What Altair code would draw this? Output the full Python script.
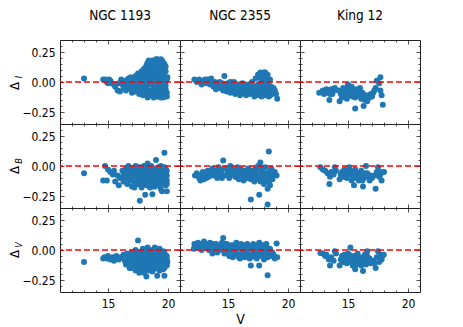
import altair as alt
import pandas as pd

clusters = ["NGC 1193", "NGC 2355", "King 12"]
bands = ["I", "B", "V"]

# (V, Delta) pairs
ngc1193_I = [(13.0,0.03),(14.6,0.02),(14.8,0.02),(14.9,0.0),(15.1,0.02),(15.2,0.01),(15.3,-0.01),(15.0,-0.01),
    (15.5,-0.02),(15.6,-0.04),(15.8,-0.07),(16.0,-0.08),(15.9,-0.01),(16.1,0.02),(16.2,-0.02),(16.3,-0.05),(16.4,0.01),
    (16.5,-0.07),(16.6,-0.03),(16.7,0.03),(16.8,-0.01),(16.9,-0.06),(16.9,0.04),(17.0,-0.09),(17.1,0.02),(17.2,-0.03),
    (17.3,0.05),(17.3,-0.08),(17.4,0.0),(17.5,-0.05),(17.5,0.07),(17.6,-0.1),(17.7,0.03),(17.7,-0.02),(17.8,0.09),
    (17.8,-0.07),(17.9,0.05),(17.9,-0.11),(18.0,0.0),(18.0,0.11),(18.1,-0.04),(18.1,0.07),(18.2,-0.09),(18.2,0.14),
    (18.3,0.03),(18.3,-0.13),(18.4,0.18),(18.4,-0.02),(18.5,0.09),(18.5,-0.07),(18.5,0.14),(18.6,0.04),(18.6,-0.11),
    (18.7,0.18),(18.7,0.0),(18.8,0.12),(18.8,-0.05),(18.8,-0.13),(18.9,0.07),(18.9,0.02),(19.0,0.19),(19.0,-0.09),
    (19.0,0.15),(19.1,0.1),(19.1,-0.02),(19.2,0.05),(19.2,-0.12),(19.2,0.18),(19.3,0.13),(19.3,-0.06),(19.3,0.0),
    (19.4,0.19),(19.4,0.08),(19.4,-0.1),(19.5,0.14),(19.5,0.03),(19.5,-0.04),(19.6,0.1),(19.6,-0.08),(19.6,-0.13),
    (19.7,0.15),(19.7,0.05),(19.7,-0.01),(19.8,0.09),(19.8,-0.06),(19.8,-0.11),(19.9,0.02),(19.95,0.04),(19.9,-0.09)]
ngc1193_I_more = [(16.6,0.0),(16.8,-0.04),(17.0,0.0),(17.0,-0.05),(17.2,0.02),(17.2,-0.07),(17.4,-0.03),(17.4,0.04),
    (17.6,0.0),(17.6,-0.06),(17.6,0.05),(17.8,-0.03),(17.8,0.02),(18.0,-0.08),(18.0,0.05),(18.0,-0.02),(18.2,0.02),
    (18.2,-0.05),(18.2,0.09),(18.4,-0.09),(18.4,0.06),(18.4,0.11),(18.6,0.08),(18.6,-0.01),(18.6,0.13),(18.8,0.16),
    (18.8,0.07),(18.8,-0.09),(19.0,0.11),(19.0,0.04),(19.0,-0.05),(19.0,-0.12),(19.2,0.14),(19.2,0.09),(19.2,0.01),
    (19.2,-0.07),(19.4,0.12),(19.4,0.04),(19.4,-0.02),(19.4,-0.13),(19.6,0.16),(19.6,0.06),(19.6,0.0),(19.8,0.13),
    (19.8,0.0),(19.8,-0.03),(19.9,-0.12),(17.9,0.09),(17.7,0.07),(18.3,0.16),(18.9,0.17),(19.1,0.19),(19.3,0.16),(19.5,0.18)]
ngc2355_I = [(12.2,0.02),(12.4,0.0),(12.6,0.02),(12.8,-0.02),(12.9,0.01),(13.1,0.02),(13.2,-0.01),(13.4,0.01),
    (13.6,0.03),(13.7,-0.02),(13.8,-0.04),(13.9,0.0),(14.0,-0.06),(14.2,-0.02),(14.3,-0.05),(14.5,-0.01),(14.7,0.05),
    (14.6,-0.07),(14.8,-0.03),(14.9,-0.08),(15.0,-0.01),(15.1,-0.05),(15.2,-0.09),(15.3,-0.03),(15.4,-0.07),(15.5,0.0),
    (15.6,-0.1),(15.7,-0.04),(15.8,-0.08),(15.9,-0.02),(16.0,-0.11),(16.1,-0.06),(16.2,-0.01),(16.3,-0.09),(16.4,-0.04),
    (16.5,-0.11),(16.6,-0.07),(16.7,-0.02),(16.8,-0.1),(16.9,-0.05),(17.0,0.0),(17.1,-0.08),(17.2,-0.12),(17.3,0.03),
    (17.3,-0.04),(17.4,-0.09),(17.5,0.06),(17.5,-0.02),(17.6,-0.11),(17.7,0.08),(17.7,-0.06),(17.8,0.02),(17.8,-0.12),
    (17.9,-0.03),(17.9,0.07),(18.0,-0.08),(18.0,0.04),(18.1,-0.11),(18.1,0.08),(18.2,0.0),(18.2,-0.05),(18.3,-0.1),
    (18.3,0.06),(18.4,-0.02),(18.4,-0.12),(18.5,-0.07),(18.6,-0.04),(18.7,-0.1),(18.9,-0.07),(19.0,-0.1),(19.1,-0.14)]
ngc2355_I_more = [(12.5,0.01),(13.0,0.0),(13.3,0.02),(13.5,-0.02),(13.9,-0.03),(14.1,-0.01),(14.4,-0.04),(14.6,-0.02),
    (14.9,-0.05),(15.1,-0.03),(15.3,-0.06),(15.5,-0.04),(15.7,-0.07),(15.9,-0.05),(16.1,-0.09),(16.3,-0.03),(16.5,-0.06),
    (16.7,-0.08),(16.9,-0.02),(17.1,-0.05),(17.3,-0.1),(17.5,-0.07),(17.7,-0.01),(17.9,-0.08),(18.1,-0.04),(18.3,-0.07),
    (18.5,-0.11),(18.5,0.02),(18.6,-0.08),(18.8,-0.05),(17.6,0.04),(18.0,0.08),(18.2,0.04),(16.0,-0.02),(15.2,0.0),(14.3,0.0)]
king12_I = [(12.6,-0.09),(12.9,-0.07),(13.0,-0.1),(13.2,-0.06),(13.3,-0.09),(13.5,-0.1),(13.45,-0.15),(13.6,-0.06),
    (13.8,-0.07),(13.9,-0.05),(14.3,-0.16),(14.4,-0.1),(14.5,-0.13),(14.6,-0.08),(14.7,-0.11),(14.8,-0.06),(14.9,-0.09),
    (15.0,-0.02),(15.0,-0.12),(15.1,-0.07),(15.2,-0.05),(15.3,-0.1),(15.3,-0.04),(15.4,-0.12),(15.5,-0.08),(15.6,-0.22),
    (15.6,-0.13),(15.7,-0.06),(15.8,-0.1),(15.9,-0.07),(16.0,-0.11),(16.0,-0.05),(16.1,-0.14),(16.2,-0.09),(16.3,-0.2),
    (16.4,-0.15),(16.6,-0.16),(16.8,-0.13),(16.9,-0.1),(17.0,-0.12),(17.1,-0.09),(17.2,-0.07),(17.3,-0.05),(17.4,0.01),
    (17.6,-0.01),(17.7,0.04),(17.7,-0.07),(17.8,-0.11),(17.9,-0.19)]
king12_I_more = [(14.6,-0.05),(14.9,-0.14),(15.2,-0.09),(15.4,-0.06),(15.7,-0.09),(16.0,-0.08),(16.2,-0.12),
    (16.5,-0.11),(14.2,-0.07),(13.7,-0.1)]
ngc1193_B = [(13.0,-0.06),(14.75,0.0),(14.6,-0.12),(14.9,-0.12),(15.0,-0.03),(15.2,-0.05),(15.4,-0.07),(15.5,-0.04),
    (15.6,-0.13),(15.8,-0.08),(15.9,-0.16),(16.0,-0.1),(16.2,-0.04),(16.3,-0.13),(16.4,-0.08),(16.5,-0.02),(16.6,-0.15),
    (16.7,0.0),(16.7,-0.1),(16.8,-0.05),(16.9,-0.12),(17.0,-0.02),(17.0,-0.17),(17.1,-0.08),(17.2,-0.13),(17.3,-0.04),
    (17.3,0.0),(17.4,-0.1),(17.5,-0.15),(17.5,-0.06),(17.6,-0.01),(17.65,-0.29),(17.7,-0.12),(17.8,-0.08),(17.8,-0.18),
    (17.9,-0.03),(18.0,-0.14),(18.0,0.0),(18.1,-0.24),(18.1,-0.06),(18.2,-0.1),(18.2,-0.16),(18.3,0.02),(18.3,-0.02),
    (18.4,-0.12),(18.4,-0.07),(18.5,-0.18),(18.5,-0.04),(18.6,0.0),(18.6,-0.1),(18.7,-0.235),(18.7,-0.14),(18.8,-0.06),
    (18.8,-0.02),(18.9,-0.17),(18.9,-0.1),(19.0,0.05),(19.0,-0.04),(19.1,-0.13),(19.1,-0.08),(19.2,-0.01),(19.2,-0.16),
    (19.3,-0.11),(19.3,-0.05),(19.4,0.0),(19.4,-0.19),(19.5,-0.09),(19.5,-0.21),(19.5,-0.03),(19.6,-0.14),(19.6,-0.06),
    (19.7,0.11),(19.7,-0.1),(19.7,-0.01),(19.8,-0.16),(19.8,-0.05),(19.9,-0.21),(19.9,-0.08),(19.9,-0.12)]
ngc1193_B_more = [(16.3,-0.07),(16.5,-0.1),(16.6,-0.05),(16.8,-0.09),(16.9,-0.02),(17.0,-0.12),(17.1,-0.04),(17.2,-0.1),
    (17.3,-0.15),(17.4,-0.07),(17.5,-0.02),(17.6,-0.13),(17.7,-0.05),(17.8,-0.11),(17.9,-0.15),(18.0,-0.09),(18.0,-0.04),
    (18.1,-0.13),(18.2,-0.01),(18.3,-0.08),(18.3,-0.15),(18.4,-0.03),(18.5,-0.11),(18.6,-0.16),(18.6,-0.06),(18.7,-0.09),
    (18.7,-0.02),(18.8,-0.13),(18.9,-0.07),(18.9,-0.04),(19.0,-0.11),(19.0,-0.15),(19.1,-0.02),(19.1,-0.06),(19.2,-0.09),
    (19.2,-0.13),(19.3,-0.02),(19.3,-0.15),(19.4,-0.07),(19.4,-0.13),(19.5,-0.12),(19.6,-0.02),(19.6,-0.1),(19.7,-0.07),
    (19.7,-0.13),(19.8,-0.09),(19.8,-0.02),(19.9,-0.04),(19.9,-0.15),(17.2,-0.18),(17.9,-0.01),(18.8,-0.17)]
ngc2355_B = [(12.25,-0.08),(12.4,-0.06),(12.6,-0.1),(12.7,-0.12),(12.9,-0.05),(13.0,-0.11),(13.1,-0.07),(13.3,-0.04),
    (13.4,-0.09),(13.6,-0.06),(13.7,-0.02),(13.8,-0.08),(14.0,-0.04),(14.1,-0.1),(14.2,-0.01),(14.3,-0.06),(14.5,-0.03),
    (14.6,0.045),(14.7,-0.08),(14.8,-0.02),(15.0,-0.05),(15.1,-0.1),(15.2,0.0),(15.3,-0.07),(15.4,-0.03),(15.6,-0.09),
    (15.7,-0.05),(15.8,-0.01),(15.9,-0.11),(16.0,-0.06),(16.1,-0.03),(16.2,-0.08),(16.3,-0.12),(16.4,-0.04),(16.5,-0.07),
    (16.6,-0.1),(16.7,-0.02),(16.8,-0.06),(16.9,-0.28),(16.9,-0.11),(17.0,-0.04),(17.1,-0.08),(17.2,-0.13),(17.3,-0.02),
    (17.3,-0.06),(17.4,-0.1),(17.5,0.0),(17.6,-0.24),(17.6,-0.08),(17.7,0.03),(17.7,-0.13),(17.8,-0.04),(17.9,-0.1),
    (18.0,-0.06),(18.0,-0.15),(18.1,-0.01),(18.2,-0.09),(18.2,-0.12),(18.3,-0.19),(18.3,-0.32),(18.4,0.12),(18.4,-0.05),
    (18.5,-0.16),(18.5,-0.08),(18.6,-0.02),(18.7,-0.11),(18.8,-0.07),(18.9,-0.05),(19.05,-0.08)]
ngc2355_B_more = [(12.5,-0.08),(12.8,-0.07),(13.2,-0.1),(13.5,-0.06),(13.9,-0.05),(14.2,-0.08),(14.4,-0.05),(14.9,-0.07),
    (15.3,-0.04),(15.5,-0.06),(15.7,-0.09),(16.0,-0.03),(16.2,-0.05),(16.4,-0.09),(16.6,-0.05),(16.8,-0.09),(17.0,-0.07),
    (17.2,-0.05),(17.4,-0.03),(17.6,-0.11),(17.8,-0.07),(17.9,-0.02),(18.1,-0.08),(18.3,-0.1),(18.4,-0.13),(18.6,-0.06),
    (18.7,-0.04),(15.0,-0.02),(14.5,-0.1),(16.1,-0.1)]
king12_B = [(12.7,-0.01),(12.9,-0.03),(13.1,-0.04),(13.3,-0.06),(13.45,-0.15),(13.5,-0.09),(13.6,-0.05),(13.8,-0.07),
    (13.9,-0.01),(14.0,-0.04),(14.3,-0.11),(14.4,-0.07),(14.5,-0.05),(14.6,-0.09),(14.7,-0.03),(14.8,-0.06),(14.9,-0.1),
    (15.0,-0.04),(15.1,-0.01),(15.2,-0.07),(15.3,-0.12),(15.4,-0.05),(15.5,-0.16),(15.5,-0.08),(15.6,-0.03),(15.7,-0.1),
    (15.8,-0.06),(15.9,-0.12),(16.0,-0.08),(16.1,-0.04),(16.25,-0.17),(16.3,-0.1),(16.4,-0.06),(16.5,0.0),(16.6,-0.09),
    (16.8,-0.12),(17.0,-0.1),(17.2,-0.08),(17.3,-0.19),(17.4,-0.05),(17.5,-0.01),(17.6,-0.09),(17.7,-0.07),(17.8,-0.12),
    (17.9,-0.05),(18.0,-0.05)]
king12_B_more = [(14.5,-0.08),(14.8,-0.09),(15.0,-0.07),(15.2,-0.04),(15.4,-0.09),(15.6,-0.06),(15.8,-0.09),
    (16.1,-0.07),(16.2,-0.12),(16.6,-0.06),(16.9,-0.08),(17.6,-0.05)]
ngc1193_V = [(13.0,-0.1),(14.6,-0.07),(14.7,-0.06),(14.9,-0.07),(15.0,-0.05),(15.2,-0.08),(15.4,-0.06),(15.5,-0.09),
    (15.7,-0.05),(15.9,-0.08),(16.1,-0.06),(16.3,-0.04),(16.4,-0.09),(16.5,-0.12),(16.6,-0.03),(16.7,-0.07),(16.8,-0.15),
    (16.9,-0.1),(17.0,-0.02),(17.0,-0.05),(17.1,-0.13),(17.2,-0.08),(17.3,-0.17),(17.3,0.0),(17.4,-0.04),(17.5,0.08),
    (17.5,-0.11),(17.6,-0.07),(17.6,-0.19),(17.7,-0.02),(17.8,-0.14),(17.8,-0.09),(17.9,0.01),(17.9,-0.05),(18.0,-0.19),
    (18.0,-0.12),(18.1,-0.07),(18.1,-0.03),(18.2,-0.22),(18.2,-0.15),(18.3,0.02),(18.3,-0.1),(18.4,-0.05),(18.4,-0.17),
    (18.5,-0.12),(18.5,-0.01),(18.6,-0.08),(18.6,-0.14),(18.7,0.0),(18.7,-0.18),(18.8,-0.04),(18.8,-0.11),(18.9,-0.07),
    (18.9,0.02),(19.0,-0.15),(19.0,-0.09),(19.1,-0.215),(19.1,-0.03),(19.2,-0.12),(19.2,-0.06),(19.3,0.01),(19.3,-0.17),
    (19.4,-0.1),(19.4,-0.04),(19.5,-0.13),(19.5,-0.07),(19.6,-0.01),(19.6,-0.16),(19.7,-0.215),(19.7,-0.09),(19.8,-0.05),
    (19.8,-0.12),(19.9,-0.08),(19.95,-0.1)]
ngc1193_V_more = [(16.6,-0.08),(16.8,-0.05),(16.9,-0.12),(17.0,-0.08),(17.1,-0.03),(17.2,-0.11),(17.3,-0.06),
    (17.4,-0.14),(17.5,-0.03),(17.6,-0.1),(17.7,-0.16),(17.7,-0.06),(17.8,-0.02),(17.9,-0.12),(17.9,-0.08),(18.0,-0.04),
    (18.1,-0.16),(18.1,-0.1),(18.2,-0.01),(18.2,-0.07),(18.3,-0.13),(18.3,-0.04),(18.4,-0.09),(18.4,-0.02),(18.5,-0.15),
    (18.5,-0.06),(18.6,-0.11),(18.6,-0.03),(18.7,-0.08),(18.7,-0.14),(18.8,-0.01),(18.8,-0.16),(18.9,-0.1),(18.9,-0.04),
    (19.0,-0.12),(19.0,-0.01),(19.1,-0.07),(19.1,-0.15),(19.2,-0.02),(19.2,-0.09),(19.3,-0.05),(19.3,-0.12),(19.4,-0.15),
    (19.4,-0.01),(19.5,-0.1),(19.5,-0.03),(19.6,-0.06),(19.6,-0.12),(19.7,-0.02),(19.7,-0.15),(19.8,-0.08),(19.9,-0.05),
    (19.9,-0.13),(17.0,-0.15),(16.7,-0.1)]
ngc2355_V = [(12.15,0.01),(12.2,0.05),(12.4,0.02),(12.5,0.06),(12.7,0.03),(12.8,0.0),(12.9,0.05),(13.0,0.07),
    (13.1,0.02),(13.3,0.05),(13.4,0.0),(13.5,0.06),(13.6,0.02),(13.7,-0.03),(13.8,0.05),(14.0,0.01),(14.1,-0.02),
    (14.2,0.04),(14.3,0.0),(14.5,0.06),(14.6,0.1),(14.7,-0.03),(14.8,0.02),(14.9,0.05),(15.0,-0.01),(15.1,-0.05),
    (15.2,0.03),(15.3,0.0),(15.4,-0.06),(15.5,0.04),(15.6,-0.02),(15.7,0.06),(15.8,-0.04),(15.9,0.01),(16.0,-0.07),
    (16.1,0.05),(16.2,-0.02),(16.3,0.02),(16.4,-0.06),(16.5,0.04),(16.6,-0.03),(16.7,0.01),(16.8,-0.07),(16.9,-0.13),
    (16.9,0.03),(17.0,-0.04),(17.1,0.05),(17.2,-0.01),(17.3,-0.06),(17.4,0.03),(17.5,-0.03),(17.6,-0.13),(17.6,0.06),
    (17.7,0.0),(17.8,-0.05),(17.9,0.04),(18.0,-0.08),(18.0,0.01),(18.1,-0.03),(18.2,0.05),(18.3,-0.21),(18.3,-0.06),
    (18.4,0.0),(18.5,-0.04),(18.7,-0.02),(18.9,-0.07),(19.05,0.055),(19.1,-0.06)]
ngc2355_V_more = [(12.3,0.03),(12.6,0.04),(12.9,0.02),(13.2,0.04),(13.5,0.03),(13.8,0.01),(14.0,0.05),(14.3,0.03),
    (14.6,0.02),(14.8,0.05),(15.0,0.03),(15.3,0.04),(15.5,-0.03),(15.7,0.02),(16.0,0.03),(16.1,-0.04),(16.3,-0.02),
    (16.5,0.0),(16.6,0.05),(16.8,0.02),(17.0,0.03),(17.1,-0.02),(17.3,0.02),(17.5,0.04),(17.7,-0.03),(17.8,0.03),
    (18.0,0.04),(18.1,-0.05),(18.2,0.02),(18.4,-0.03),(18.5,0.01),(18.6,-0.05),(18.8,-0.04),(15.9,-0.06),(16.9,-0.06),
    (17.4,-0.07)]
king12_V = [(12.7,-0.025),(12.9,-0.03),(13.1,-0.05),(13.2,-0.04),(13.4,-0.08),(13.5,-0.13),(13.6,-0.06),(13.8,-0.09),
    (13.9,-0.01),(14.0,-0.03),(14.3,-0.13),(14.4,-0.08),(14.5,-0.05),(14.6,-0.1),(14.7,-0.04),(14.8,-0.07),(14.9,-0.11),
    (15.0,-0.03),(15.1,-0.06),(15.2,0.02),(15.3,-0.09),(15.4,-0.13),(15.5,-0.05),(15.6,-0.16),(15.7,-0.08),(15.8,-0.03),
    (15.9,-0.11),(16.0,-0.06),(16.1,-0.13),(16.25,-0.175),(16.3,-0.09),(16.4,-0.04),(16.5,-0.12),(16.6,-0.01),
    (16.7,-0.08),(16.9,-0.11),(17.1,-0.09),(17.3,-0.15),(17.4,-0.06),(17.5,-0.01),(17.6,-0.1),(17.7,-0.04),
    (17.85,-0.05),(17.98,-0.04)]
king12_V_more = [(14.5,-0.09),(14.7,-0.08),(15.0,-0.1),(15.1,-0.04),(15.3,-0.06),(15.5,-0.09),(15.7,-0.12),
    (15.9,-0.07),(16.1,-0.09),(16.4,-0.08),(16.6,-0.05),(16.8,-0.07),(17.2,-0.11),(17.8,-0.08)]

panel_data = {
    ("I", "NGC 1193"): ngc1193_I + ngc1193_I_more,
    ("I", "NGC 2355"): ngc2355_I + ngc2355_I_more,
    ("I", "King 12"): king12_I + king12_I_more,
    ("B", "NGC 1193"): ngc1193_B + ngc1193_B_more,
    ("B", "NGC 2355"): ngc2355_B + ngc2355_B_more,
    ("B", "King 12"): king12_B + king12_B_more,
    ("V", "NGC 1193"): ngc1193_V + ngc1193_V_more,
    ("V", "NGC 2355"): ngc2355_V + ngc2355_V_more,
    ("V", "King 12"): king12_V + king12_V_more,
}

x_domain = [11, 21]
y_domain = [-0.35, 0.35]
x_major = [15, 20]
x_minor = [12, 13, 14, 16, 17, 18, 19]
y_major = [-0.25, 0.0, 0.25]
y_minor = [-0.3, -0.2, -0.15, -0.1, -0.05, 0.05, 0.1, 0.15, 0.2, 0.3]

W, H = 120, 84
FONT = "DejaVu Sans Condensed, Liberation Sans Narrow, DejaVu Sans, sans-serif"
BLUE = "#1f77b4"


def tick_axis(orient, offset, values, size):
    return alt.Axis(orient=orient, offset=offset, values=values, labels=False, domain=False,
                    grid=False, ticks=True, tickSize=size, tickColor="#222222", tickWidth=0.8, title=None)


def panel(band, cluster, r, c):
    df = pd.DataFrame(panel_data[(band, cluster)], columns=["V", "D"])
    xs = alt.Scale(domain=x_domain, nice=False, zero=False)
    ys = alt.Scale(domain=y_domain, nice=False, zero=False)
    if r == 2:
        xax = alt.Axis(values=x_major, ticks=False, domain=False, grid=False, labelFont=FONT,
                       labelFontSize=12, labelPadding=6, labelColor="black",
                       title="V" if c == 1 else None, titleFont=FONT, titleFontSize=14,
                       titleFontWeight="normal", titlePadding=3, titleColor="black")
    else:
        xax = None
    if c == 0:
        yax = alt.Axis(values=y_major, ticks=False, domain=False, grid=False, labelFont=FONT,
                       labelFontSize=12, labelPadding=5, format=".2f", labelColor="black", title=None)
    else:
        yax = None
    pts = alt.Chart(df).mark_circle(size=36, color=BLUE, opacity=1).encode(
        x=alt.X("V:Q", scale=xs, axis=xax),
        y=alt.Y("D:Q", scale=ys, axis=yax),
    )
    layers = [pts]
    specs = [
        ("top", -H, x_major, 4, "right", -W, y_major, 4),
        ("top", -H, x_minor, 2, "right", -W, y_minor, 2),
        ("bottom", -H, x_major, 4, "left", -W, y_major, 4),
        ("bottom", -H, x_minor, 2, "left", -W, y_minor, 2),
    ]
    for xo, xoff, xv, xsz, yo, yoff, yv, ysz in specs:
        layers.append(alt.Chart(df).mark_point(opacity=0).encode(
            x=alt.X("V:Q", scale=xs, axis=tick_axis(xo, xoff, xv, xsz)),
            y=alt.Y("D:Q", scale=ys, axis=tick_axis(yo, yoff, yv, ysz)),
        ))
    rule = alt.Chart(pd.DataFrame({"y": [0.0]})).mark_rule(
        color="red", strokeDash=[6, 3], strokeWidth=1.6).encode(
        y=alt.Y("y:Q", scale=ys, axis=None))
    layers.append(rule)
    if c == 0:
        one = alt.Data(values=[{}])
        layers.append(alt.Chart(one).mark_text(text="Δ", font=FONT, fontSize=13, angle=270,
                                               align="center", baseline="middle", color="black")
                      .encode(x=alt.value(-45), y=alt.value(H / 2 + 4)))
        layers.append(alt.Chart(one).mark_text(text=band, font=FONT, fontSize=9, fontStyle="italic",
                                               angle=270, align="center", baseline="middle", color="black")
                      .encode(x=alt.value(-41), y=alt.value(H / 2 - 5)))
    ch = alt.layer(*layers).resolve_scale(x="independent", y="independent").properties(width=W, height=H)
    if r == 0:
        ch = ch.properties(title=alt.TitleParams(text=cluster, font=FONT, fontSize=13.5, fontWeight="normal",
                                                 anchor="middle", offset=17, color="black"))
    return ch


charts = []
for r, b in enumerate(bands):
    for c, cl in enumerate(clusters):
        charts.append(panel(b, cl, r, c))

chart = alt.concat(*charts, columns=3, spacing=0, bounds="flush").properties(
    padding={"left": 0, "top": 0, "right": 0, "bottom": 0}
).configure_view(stroke="#222222", strokeWidth=1).configure_concat(spacing=0)

chart.save("out.html", embed_options={"renderer": "svg", "actions": False})
